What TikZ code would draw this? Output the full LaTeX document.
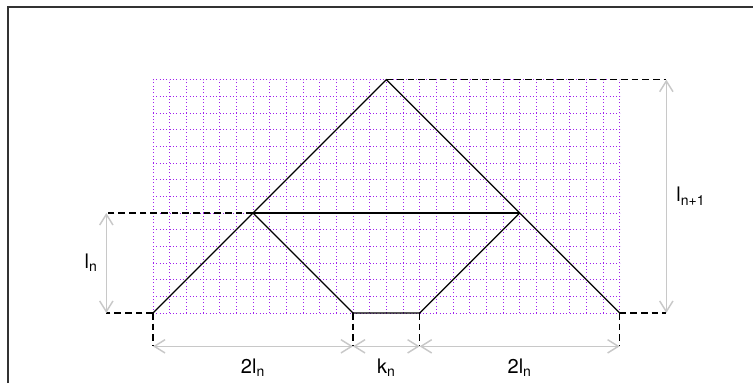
\documentclass[tikz,border=0pt]{standalone}
\usepackage{amsmath}
\usepackage{fontspec}
\setmainfont{TeX Gyre Heros}
\usetikzlibrary{arrows.meta,positioning}
\definecolor{gridpurple}{RGB}{160,32,240}
\definecolor{dimgray}{RGB}{200,200,200}
\tikzset{
  gridline/.style={draw=gridpurple,dotted,line width=0.5pt},
  foldline/.style={draw=black,line width=0.9pt},
  guideline/.style={draw=black,line width=0.8pt,dash pattern=on 5pt off 3pt},
  dimarrow/.style={
    {Straight Barb[length=8pt,width=10pt]}-{Straight Barb[length=8pt,width=10pt]},
    draw=dimgray,
    line width=1.1pt
  },
  dimlabel/.style={font=\fontsize{15}{18}\selectfont,inner sep=1pt},
  frameline/.style={draw=black!80,line width=1.2pt}
}

\begin{document}
\begin{tikzpicture}[x=12.5pt,y=12.5pt]
  \useasboundingbox (-9.18,-4.2) rectangle (36,18.78);
  \draw[frameline] (-8.7,-4.2) -- (-8.7,18.36) -- (36,18.36);

  \draw[gridline,step=1] (0,0) grid (28,14);

  % triangle and folds
  \coordinate (L) at (0,0);
  \coordinate (R) at (28,0);
  \coordinate (A) at (14,14);
  \coordinate (P) at (6,6);
  \coordinate (Q) at (22,6);
  \coordinate (B1) at (12,0);
  \coordinate (B2) at (16,0);
  \draw[foldline] (L) -- (A) -- (R);
  \draw[foldline] (P) -- (Q);
  \draw[foldline] (P) -- (B1) -- (B2) -- (Q);

  % dimensions
  \coordinate (lnlo) at (-2.8,0);
  \coordinate (lnhi) at (-2.8,6);
  \coordinate (lmlo) at (30.8,0);
  \coordinate (lmhi) at (30.8,14);
  \coordinate (d0) at (0,-2);
  \coordinate (d1) at (12,-2);
  \coordinate (d2) at (16,-2);
  \coordinate (d3) at (28,-2);
  \draw[guideline] (P) -- (lnhi);
  \draw[guideline] (L) -- (lnlo);
  \draw[guideline] (A) -- (lmhi);
  \draw[guideline] (R) -- (lmlo);
  \draw[guideline] (L) -- (d0);
  \draw[guideline] (B1) -- (d1);
  \draw[guideline] (B2) -- (d2);
  \draw[guideline] (R) -- (d3);

  \draw[dimarrow] (lnlo) -- node[dimlabel,left=5pt] (lnlab) {l$_\text{n}$} (lnhi);
  \draw[dimarrow] (lmlo) -- node[dimlabel,right=6pt] (lmlab) {l$_\text{n+1}$} (lmhi);
  \draw[dimarrow] (d0) -- node[dimlabel,below=8pt] (aleft) {2l$_\text{n}$} (d1);
  \draw[dimarrow] (d1) -- node[dimlabel,below=8pt] (kmid) {k$_\text{n}$} (d2);
  \draw[dimarrow] (d2) -- node[dimlabel,below=8pt] (aright) {2l$_\text{n}$} (d3);
\end{tikzpicture}
\end{document}
